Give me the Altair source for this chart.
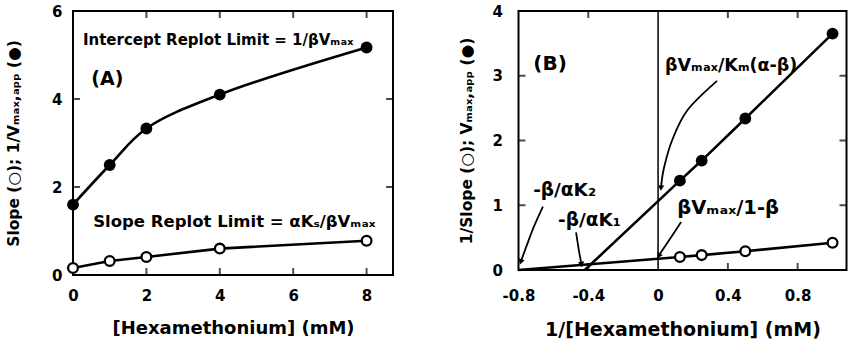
import altair as alt
import pandas as pd

FONT = "DejaVu Sans"

# ---------------- Panel A data ----------------
hexa = [0, 1, 2, 4, 8]
a_inv_vmax = [1.6, 2.5, 3.33, 4.1, 5.17]      # filled circles
a_slope = [0.16, 0.32, 0.41, 0.6, 0.78]       # open circles
a_xticks = [2, 4, 6, 8]
a_yticks = [2, 4]
a_xlabels = [0, 2, 4, 6, 8]
a_ylabels = [0, 2, 4, 6]

# ---------------- Panel B data ----------------
inv_hexa = [0.125, 0.25, 0.5, 1.0]
b_vmax = [1.38, 1.69, 2.34, 3.65]             # filled circles
b_inv_slope = [0.2, 0.23, 0.29, 0.42]         # open circles
b_vmax_xint = -0.42
b_slope_xint = -0.8
b_xticks = [-0.4, 0.4, 0.8]
b_yticks = [1, 2, 3]
b_xlabels = [-0.8, -0.4, 0, 0.4, 0.8]
b_ylabels = [0, 1, 2, 3, 4]

# annotation arrows (panel B, data units)
arrow_k2_x = [-0.66, -0.71, -0.75, -0.785]
arrow_k2_y = [0.98, 0.68, 0.40, 0.14]
arrow_k1_x = [-0.47, -0.455, -0.44]
arrow_k1_y = [0.58, 0.32, 0.10]
arrow_km_x = [0.338, 0.166, 0.08, 0.034, 0.017]
arrow_km_y = [2.92, 2.46, 2.0, 1.58, 1.28]
arrow_b_x = [0.132, 0.063, 0.006]
arrow_b_y = [0.74, 0.46, 0.23]

WA, HA = 320, 264
WB, HB = 328, 259

xA = alt.Scale(domain=[0, 8.72], nice=False, zero=False)
yA = alt.Scale(domain=[0, 6], nice=False, zero=False)
xB = alt.Scale(domain=[-0.8, 1.08], nice=False, zero=False)
yB = alt.Scale(domain=[0, 4], nice=False, zero=False)

LW = 2.6

common = dict(grid=False, ticks=False, domain=False, labelFlush=False, labelFontSize=15)
axAx = alt.Axis(values=a_xlabels, title="[Hexamethonium] (mM)", labelPadding=13,
                titlePadding=16, titleFontSize=18, **common)
axAy = alt.Axis(values=a_ylabels, title="Slope (○); 1/Vₘₐₓ,ₐₚₚ (●)", labelPadding=11,
                titlePadding=30, titleFontSize=15.5, **common)
axBx = alt.Axis(values=b_xlabels, title="1/[Hexamethonium] (mM)", labelPadding=18,
                titlePadding=17, titleFontSize=19,
                labelExpr="datum.value == 0 ? '0' : (datum.value < 0 ? '-' + format(-datum.value, '.1f') : format(datum.value, '.1f'))",
                **common)
axBy = alt.Axis(values=b_ylabels, title="1/Slope (○); Vₘₐₓ,ₐₚₚ (●)", labelPadding=16,
                titlePadding=18, titleFontSize=15.5, **common)


def X(field, s, ax):
    return alt.X(field, scale=s, axis=ax)


def Y(field, s, ax):
    return alt.Y(field, scale=s, axis=ax)


def ticks_layer(vals, xs, ys, axx, axy, w, h):
    dfx = pd.DataFrame({"v": vals[0]})
    dfy = pd.DataFrame({"v": vals[1]})
    kw = dict(color="black", thickness=2, size=7)
    bot = alt.Chart(dfx).mark_tick(orient="vertical", **kw).encode(
        x=X("v:Q", xs, axx), y=alt.value(h - 3.5))
    top = alt.Chart(dfx).mark_tick(orient="vertical", **kw).encode(
        x=X("v:Q", xs, axx), y=alt.value(3.5))
    left = alt.Chart(dfy).mark_tick(orient="horizontal", **kw).encode(
        y=Y("v:Q", ys, axy), x=alt.value(3.5))
    right = alt.Chart(dfy).mark_tick(orient="horizontal", **kw).encode(
        y=Y("v:Q", ys, axy), x=alt.value(w - 3.5))
    return [bot, top, left, right]


def text_layer(xv, yv, label, xs, ys, axx, axy, size):
    df = pd.DataFrame({"x": [xv], "y": [yv], "t": [label]})
    return alt.Chart(df).mark_text(
        align="left", baseline="middle", font=FONT, fontWeight="bold",
        fontSize=size, color="black").encode(
        x=X("x:Q", xs, axx), y=Y("y:Q", ys, axy), text="t:N")


# ---------------- Panel A ----------------
dfA = pd.DataFrame({"x": hexa, "filled": a_inv_vmax, "open": a_slope})

lineA_f = alt.Chart(dfA).mark_line(color="black", strokeWidth=LW, interpolate="catmull-rom").encode(
    x=X("x:Q", xA, axAx), y=Y("filled:Q", yA, axAy))
lineA_o = alt.Chart(dfA).mark_line(color="black", strokeWidth=LW).encode(
    x=X("x:Q", xA, axAx), y=Y("open:Q", yA, axAy))
ptsA_f = alt.Chart(dfA).mark_point(filled=True, color="black", size=140, opacity=1).encode(
    x=X("x:Q", xA, axAx), y=Y("filled:Q", yA, axAy))
ptsA_o = alt.Chart(dfA).mark_point(filled=True, fill="white", stroke="black", strokeWidth=2.3,
                                   size=95, opacity=1).encode(
    x=X("x:Q", xA, axAx), y=Y("open:Q", yA, axAy))

textsA = [
    text_layer(0.27, 5.33, "Intercept Replot Limit = 1/βVₘₐₓ", xA, yA, axAx, axAy, 15),
    text_layer(0.5, 4.46, "(A)", xA, yA, axAx, axAy, 19),
    text_layer(0.55, 1.21, "Slope Replot Limit = αKₛ/βVₘₐₓ", xA, yA, axAx, axAy, 16.5),
]

chartA = alt.layer(lineA_f, lineA_o, ptsA_f, ptsA_o,
                   *ticks_layer((a_xticks, a_yticks), xA, yA, axAx, axAy, WA, HA),
                   *textsA).properties(width=WA, height=HA)

# ---------------- Panel B ----------------
dfB = pd.DataFrame({"x": inv_hexa, "filled": b_vmax, "open": b_inv_slope})
dfBf_line = pd.DataFrame({"x": [b_vmax_xint] + inv_hexa, "y": [0] + b_vmax})
dfBo_line = pd.DataFrame({"x": [b_slope_xint] + inv_hexa, "y": [0] + b_inv_slope})

lineB_f = alt.Chart(dfBf_line).mark_line(color="black", strokeWidth=LW).encode(
    x=X("x:Q", xB, axBx), y=Y("y:Q", yB, axBy))
lineB_o = alt.Chart(dfBo_line).mark_line(color="black", strokeWidth=LW).encode(
    x=X("x:Q", xB, axBx), y=Y("y:Q", yB, axBy))
zero_rule = alt.Chart(pd.DataFrame({"x": [0]})).mark_rule(color="black", strokeWidth=1.5).encode(
    x=X("x:Q", xB, axBx))
ptsB_f = alt.Chart(dfB).mark_point(filled=True, color="black", size=140, opacity=1).encode(
    x=X("x:Q", xB, axBx), y=Y("filled:Q", yB, axBy))
ptsB_o = alt.Chart(dfB).mark_point(filled=True, fill="white", stroke="black", strokeWidth=2.3,
                                   size=95, opacity=1).encode(
    x=X("x:Q", xB, axBx), y=Y("open:Q", yB, axBy))

arrows = []
heads = []
for name, xs_, ys_, ang in [("k2", arrow_k2_x, arrow_k2_y, 199),
                            ("k1", arrow_k1_x, arrow_k1_y, 172),
                            ("km", arrow_km_x, arrow_km_y, 183),
                            ("b", arrow_b_x, arrow_b_y, 213)]:
    dfa = pd.DataFrame({"x": xs_, "y": ys_, "i": list(range(len(xs_)))})
    arrows.append(alt.Chart(dfa).mark_line(color="black", strokeWidth=1.8, interpolate="cardinal").encode(
        x=X("x:Q", xB, axBx), y=Y("y:Q", yB, axBy), order="i:Q"))
    dft = pd.DataFrame({"x": [xs_[-1]], "y": [ys_[-1]]})
    heads.append(alt.Chart(dft).mark_point(shape="triangle", filled=True, color="black", size=40,
                                           opacity=1, angle=ang).encode(
        x=X("x:Q", xB, axBx), y=Y("y:Q", yB, axBy)))

textsB = [
    text_layer(-0.715, 3.18, "(B)", xB, yB, axBx, axBy, 20),
    text_layer(0.04, 3.15, "βVₘₐₓ/Kₘ(α-β)", xB, yB, axBx, axBy, 17.5),
    text_layer(-0.716, 1.23, "-β/αK₂", xB, yB, axBx, axBy, 18.5),
    text_layer(-0.573, 0.77, "-β/αK₁", xB, yB, axBx, axBy, 18.5),
    text_layer(0.11, 0.95, "βVₘₐₓ/1-β", xB, yB, axBx, axBy, 19.5),
]

chartB = alt.layer(zero_rule, lineB_f, lineB_o, *arrows, *heads, ptsB_f, ptsB_o,
                   *ticks_layer((b_xticks, b_yticks), xB, yB, axBx, axBy, WB, HB),
                   *textsB).properties(width=WB, height=HB)

chart = alt.hconcat(chartA, chartB, spacing=63.5).properties(
    padding={"left": 5, "top": 3, "right": 0, "bottom": 0},
    background="white",
).configure_view(stroke="black", strokeWidth=2).configure_axis(
    labelFont=FONT, titleFont=FONT, labelFontWeight="bold", titleFontWeight="bold",
    labelColor="black", titleColor="black")

chart.save("out.html", embed_options={"renderer": "svg", "actions": False})
